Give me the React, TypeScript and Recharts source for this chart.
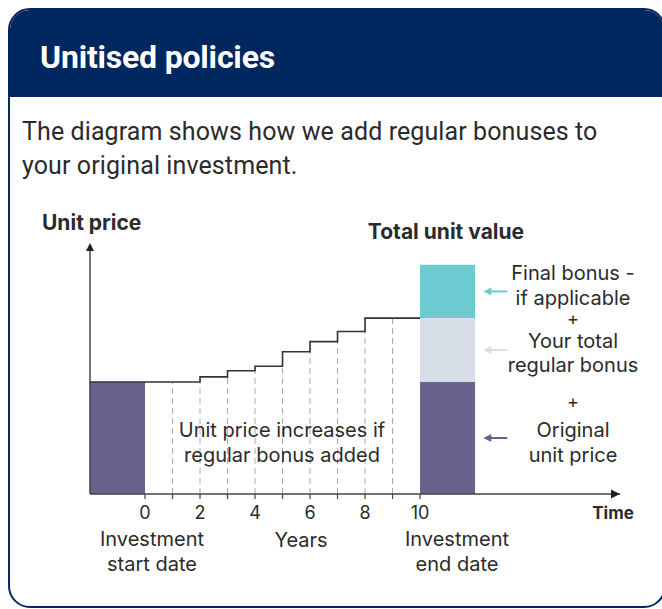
import React from "react";
import {
  ComposedChart,
  Line,
  XAxis,
  YAxis,
  ReferenceArea,
  ReferenceLine,
  ReferenceDot,
} from "recharts";

// ---- data ----
const years = [-2, 0, 1, 2, 3, 4, 5, 6, 7, 8, 9, 10];
const unitPrice = [100, 100, 100, 104.5, 110, 114, 127, 136, 145, 157, 157, 157];
const tickYears = [0, 1, 2, 3, 4, 5, 6, 7, 8, 9, 10];
const labelledYears = [0, 2, 4, 6, 8, 10];
const bonusYears = [1, 2, 3, 4, 5, 6, 7, 8, 9];
const startBarYears = [-2, 0];
const endBarYears = [10, 12];
const segmentNames = ["Original unit price", "Your total regular bonus", "Final bonus"];
const segmentValues = [100, 57, 47.5];
const segmentColors = ["#68628f", "#d7dee8", "#6ccbd1"];
const arrowYears = [12.3, 13.15];
const xDomain = [-2, 17.27];
const yDomain = [0, 224];

const NAVY = "#00275f";
const TEXT = "#2b2b2b";
const AXIS = "#444";

const chartData = years.map((y, i) => ({ year: y, price: unitPrice[i] }));

const stacked = segmentValues.map((v, i) => {
  const y1 = segmentValues.slice(0, i).reduce((a, b) => a + b, 0);
  return { name: segmentNames[i], y1, y2: y1 + v, mid: y1 + v / 2, color: segmentColors[i] };
});

const FONT = "Roboto, 'Liberation Sans', sans-serif";
const CFONT = "Inter, 'Liberation Sans', sans-serif";

const Tick = (props: any) => {
  const { x, y, payload } = props;
  if (!labelledYears.includes(payload.value)) return null;
  return (
    <text x={x} y={y} dy={18} textAnchor="middle" fill={TEXT} fontSize={18} fontFamily={CFONT}>
      {payload.value}
    </text>
  );
};

const arrowShape = (color: string) => (p: any) => {
  const { cx, cy } = p;
  const len = 24;
  return (
    <g>
      <line x1={cx + 4} y1={cy} x2={cx + len} y2={cy} stroke={color} strokeWidth={2} />
      <path d={`M${cx},${cy} L${cx + 8},${cy - 4} L${cx + 8},${cy + 4} Z`} fill={color} />
    </g>
  );
};

const xArrow = (p: any) => {
  const { cx, cy } = p;
  return <path d={`M${cx},${cy} L${cx - 9},${cy - 4.5} L${cx - 9},${cy + 4.5} Z`} fill="#222" />;
};
const yArrow = (p: any) => {
  const { cx, cy } = p;
  return <path d={`M${cx},${cy} L${cx - 4},${cy + 8} L${cx + 4},${cy + 8} Z`} fill="#222" />;
};

type T = { t: string; x: number; y: number; a?: string; w?: number; s?: number };
const texts: T[] = [
  { t: "Unit price", x: 42, y: 230, a: "start", w: 700, s: 21 },
  { t: "Total unit value", x: 446, y: 239, w: 700, s: 21 },
  { t: "Time", x: 613, y: 519, w: 700, s: 17 },
  { t: "Investment", x: 152, y: 546, s: 20 },
  { t: "start date", x: 152, y: 571, s: 20 },
  { t: "Years", x: 301, y: 547, s: 20 },
  { t: "Investment", x: 457, y: 546, s: 20 },
  { t: "end date", x: 457, y: 571, s: 20 },
  { t: "Unit price increases if", x: 282, y: 437, s: 20 },
  { t: "regular bonus added", x: 282, y: 462, s: 20 },
  { t: "Final bonus -", x: 573, y: 280, s: 20 },
  { t: "if applicable", x: 573, y: 305, s: 20 },
  { t: "+", x: 573, y: 325, s: 18 },
  { t: "Your total", x: 573, y: 348, s: 20 },
  { t: "regular bonus", x: 573, y: 372, s: 20 },
  { t: "+", x: 573, y: 408, s: 18 },
  { t: "Original", x: 573, y: 437, s: 20 },
  { t: "unit price", x: 573, y: 462, s: 20 },
];

export default function App() {
  return (
    <div style={{ position: "absolute", left: 0, top: 0, width: 662, height: 609, overflow: "hidden", background: "#fff" }}>
      <div
        style={{
          position: "absolute",
          left: 8,
          top: 8,
          width: 658,
          height: 600,
          boxSizing: "border-box",
          border: `2px solid ${NAVY}`,
          borderRadius: 22,
          overflow: "hidden",
          background: "#fff",
        }}
      >
        <div style={{ height: 87, background: NAVY, position: "relative" }}>
          <div
            style={{
              position: "absolute",
              left: 30,
              top: 31,
              color: "#fff",
              fontFamily: FONT,
              fontWeight: 700,
              fontSize: 32,
              lineHeight: "32px",
              letterSpacing: -0.2,
              whiteSpace: "nowrap",
            }}
          >
            Unitised policies
          </div>
        </div>
        <div
          style={{
            position: "absolute",
            left: 12,
            top: 105,
            fontFamily: FONT,
            fontSize: 25,
            lineHeight: "34px",
            letterSpacing: 0.1,
            color: TEXT,
            whiteSpace: "nowrap",
          }}
        >
          The diagram shows how we add regular bonuses to
          <br />
          your original investment.
        </div>
      </div>

      <div style={{ position: "absolute", left: 0, top: 0 }}>
        <ComposedChart
          width={662}
          height={609}
          data={chartData}
          margin={{ top: 243, right: 42, bottom: 85, left: 90 }}
        >
          <XAxis
            dataKey="year"
            type="number"
            domain={xDomain}
            allowDataOverflow
            ticks={tickYears}
            interval={0}
            tick={<Tick />}
            tickSize={5}
            tickLine={{ stroke: AXIS, strokeWidth: 1.2 }}
            axisLine={{ stroke: AXIS, strokeWidth: 1.5 }}
            height={30}
          />
          <YAxis type="number" domain={yDomain} allowDataOverflow hide />
          <ReferenceArea
            x1={startBarYears[0]}
            x2={startBarYears[1]}
            y1={0}
            y2={segmentValues[0]}
            fill={segmentColors[0]}
            fillOpacity={1}
            stroke="none"
          />
          {stacked.map((s) => (
            <ReferenceArea
              key={s.name}
              x1={endBarYears[0]}
              x2={endBarYears[1]}
              y1={s.y1}
              y2={s.y2}
              fill={s.color}
              fillOpacity={1}
              stroke="none"
            />
          ))}
          {bonusYears.map((yr) => (
            <ReferenceLine
              key={yr}
              segment={[
                { x: yr, y: 0 },
                { x: yr, y: unitPrice[years.indexOf(yr)] },
              ]}
              stroke="#a9a9a9"
              strokeWidth={1}
              strokeDasharray="6 4"
            />
          ))}
          <ReferenceLine
            segment={[
              { x: xDomain[0], y: 0 },
              { x: xDomain[0], y: yDomain[1] - 4 },
            ]}
            stroke={AXIS}
            strokeWidth={1.5}
            ifOverflow="visible"
          />
          <Line
            dataKey="price"
            type="stepAfter"
            stroke="#333"
            strokeWidth={1.6}
            dot={false}
            activeDot={false}
            isAnimationActive={false}
          />
          {stacked.map((s) => (
            <ReferenceDot
              key={"arr" + s.name}
              x={arrowYears[0]}
              y={s.mid}
              r={0}
              ifOverflow="visible"
              shape={arrowShape(s.color)}
            />
          ))}
          <ReferenceDot x={xDomain[1]} y={0} r={0} ifOverflow="visible" shape={xArrow} />
          <ReferenceDot x={xDomain[0]} y={yDomain[1]} r={0} ifOverflow="visible" shape={yArrow} />
        </ComposedChart>
      </div>

      <svg width={662} height={609} style={{ position: "absolute", left: 0, top: 0, pointerEvents: "none" }}>
        {texts.map((d, i) => (
          <text
            key={i}
            x={d.x}
            y={d.y}
            textAnchor={(d.a as any) || "middle"}
            fontWeight={d.w || 400}
            fontSize={d.s || 20}
            fontFamily={CFONT}
            fill={TEXT}
          >
            {d.t}
          </text>
        ))}
      </svg>
    </div>
  );
}
